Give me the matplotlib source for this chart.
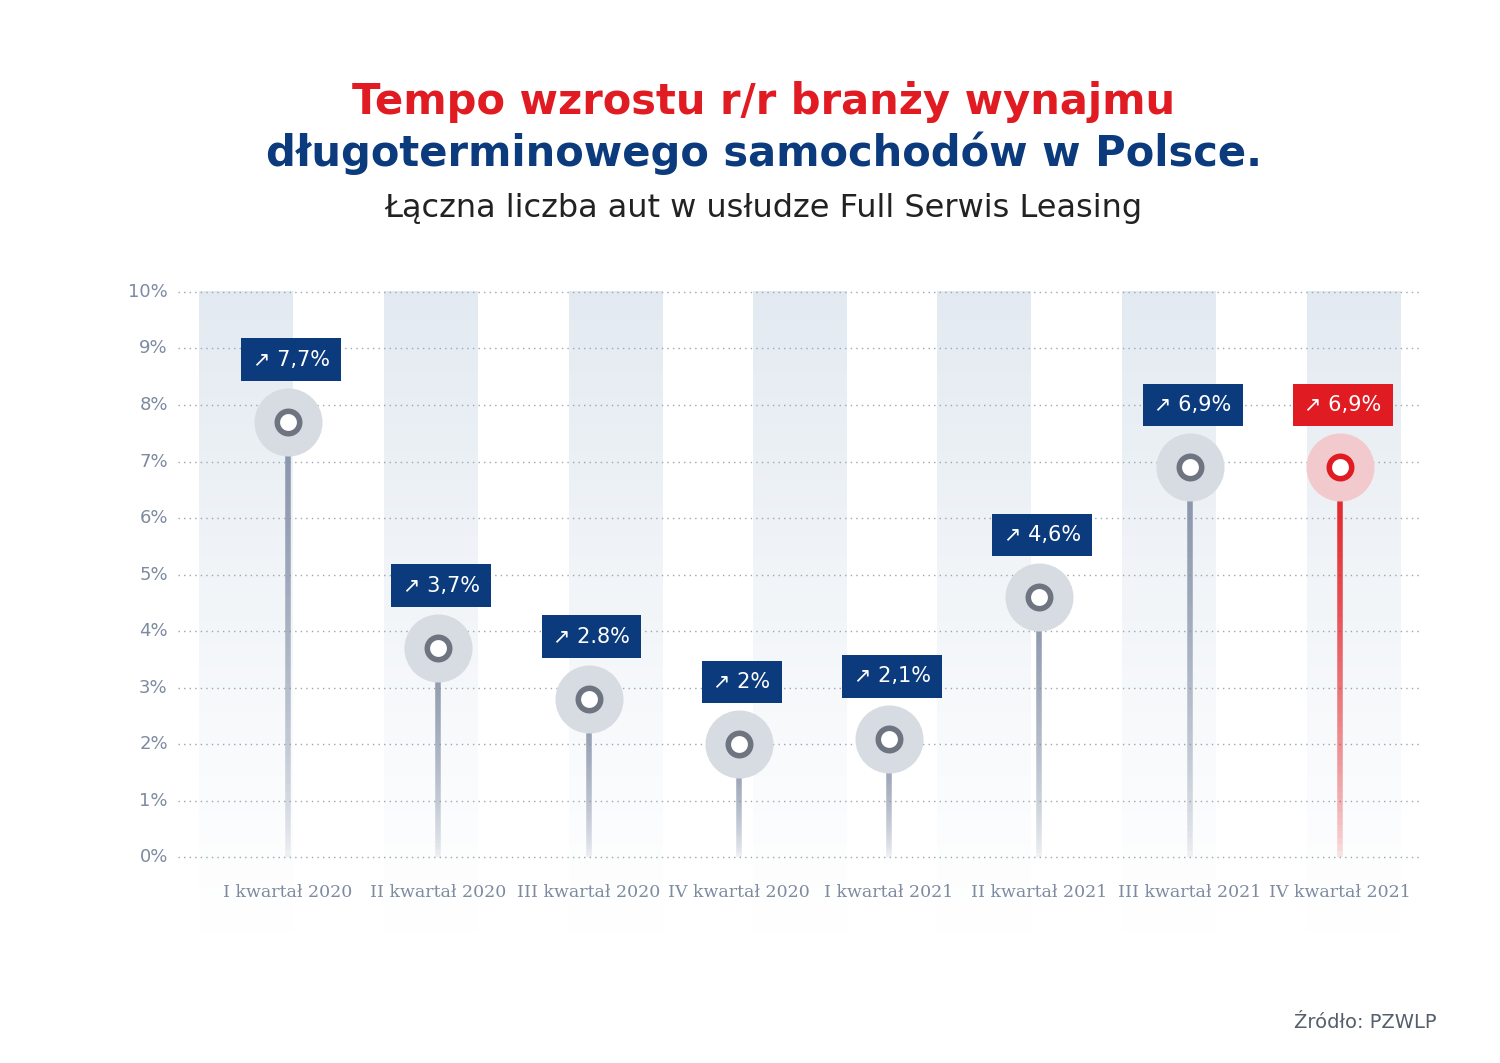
import numpy as np
import matplotlib
matplotlib.use("Agg")
import matplotlib.pyplot as plt
from matplotlib.collections import LineCollection

categories = ["I kwartał 2020", "II kwartał 2020", "III kwartał 2020", "IV kwartał 2020",
              "I kwartał 2021", "II kwartał 2021", "III kwartał 2021", "IV kwartał 2021"]
values = [7.7, 3.7, 2.8, 2.0, 2.1, 4.6, 6.9, 6.9]
value_labels = ["7,7%", "3,7%", "2.8%", "2%", "2,1%", "4,6%", "6,9%", "6,9%"]
yticks = list(range(0, 11))

NAVY = "#0b3b7c"
RED = "#e11b22"
W, H = 1500, 1063
fig = plt.figure(figsize=(W/100, H/100), dpi=100)

def px_axes(l, t, r, b):
    return fig.add_axes([l/W, 1-b/H, (r-l)/W, (b-t)/H])

ax = px_axes(178, 275, 1422, 942)
ax.set_xlim(-0.732, 7.546)
ax.set_ylim(-1.5, 10.3)
ax.axis("off")

# background stripes with fading gradient
stripe_centers = [-0.28, 0.95, 2.18, 3.41, 4.63, 5.86, 7.09]
grad = np.ones((100, 1, 4))
grad[..., :3] = np.array([0.878, 0.906, 0.941])
grad[:, 0, 3] = np.linspace(0.9, 0.0, 100) ** 1.2
for c in stripe_centers:
    ax.imshow(grad, extent=[c-0.3125, c+0.3125, -1.5, 10.0], aspect="auto",
              origin="upper", zorder=0, interpolation="bilinear")

# dotted gridlines + tick labels
for t in yticks:
    ax.plot([-0.732, 7.546], [t, t], color="#9aa5b5", lw=1.0, ls=(0, (1, 3)), zorder=1)
    ax.text(-0.80, t, f"{t}%", ha="right", va="center", fontsize=13, color="#7d8aa0",
            family="DejaVu Sans", clip_on=False)

for i, (v, lab, cat) in enumerate(zip(values, value_labels, categories)):
    last = i == len(values) - 1
    col = RED if last else NAVY
    stem_rgb = np.array([0.89, 0.11, 0.13]) if last else np.array([0.52, 0.57, 0.66])
    n = 60
    ys = np.linspace(0, v, n + 1)
    segs = [[(i, ys[k]), (i, ys[k+1])] for k in range(n)]
    cols = [(*stem_rgb, 0.12 + 0.88 * (k / n) ** 0.7) for k in range(n)]
    ax.add_collection(LineCollection(segs, colors=cols, linewidths=4, zorder=2))
    halo = "#f2c9cc" if last else "#d7dbe2"
    ax.scatter([i], [v], s=2400, color=halo, zorder=3, lw=0)
    ax.scatter([i], [v], s=260, color="white", edgecolors=RED if last else "#6e7480",
               linewidths=4, zorder=4)
    ax.text(i + 0.02, v + 1.1, "\u2197 " + lab, ha="center", va="center", fontsize=15,
            color="white", zorder=5,
            bbox=dict(boxstyle="square,pad=0.55", fc=col, ec="none"))
    ax.text(i, -0.63, cat, ha="center", va="center", fontsize=12.5, color="#7d8aa0",
            family="DejaVu Serif", zorder=5)

fig.text(0.509, 1-102/H, "Tempo wzrostu r/r branży wynajmu", ha="center", va="center",
         fontsize=30, fontweight="bold", color=RED)
fig.text(0.509, 1-153/H, "długoterminowego samochodów w Polsce.", ha="center", va="center",
         fontsize=30, fontweight="bold", color=NAVY)
fig.text(0.509, 1-208/H, "Łączna liczba aut w usłudze Full Serwis Leasing", ha="center",
         va="center", fontsize=23, color="#222222")
fig.text(1437/W, 1-1022/H, "Źródło: PZWLP", ha="right", va="center", fontsize=14,
         color="#555e6c")

fig.savefig("out.png", dpi=100, facecolor="white")
